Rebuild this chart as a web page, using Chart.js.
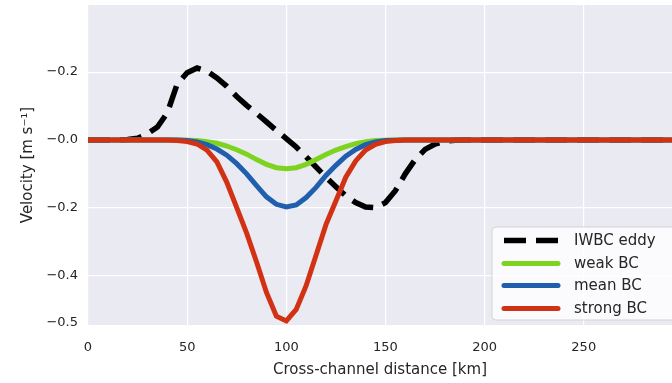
<!DOCTYPE html>
<html>
<head>
<meta charset="utf-8">
<script src="https://cdn.jsdelivr.net/npm/chart.js@4"></script>
<style>
  html, body { margin: 0; padding: 0; background: #fff; }
  #wrap { width: 672px; height: 383px; }
</style>
</head>
<body>
<div id="wrap"><canvas id="velChart" width="672" height="383"></canvas></div>
<script>
// cross-channel distance [km]
const distance = [0, 5, 10, 15, 20, 25, 30, 35, 40, 45, 50, 55, 60, 65, 70, 75, 80, 85, 90, 95,
    100, 105, 110, 115, 120, 125, 130, 135, 140, 145, 150, 155, 160, 165, 170, 175, 180, 185, 190, 195,
    200, 205, 210, 215, 220, 225, 230, 235, 240, 245, 250, 255, 260, 265, 270, 275, 280, 285, 290, 295];

// velocity profiles (as plotted)
const iwbcEddy = [0, 0, 0, 0, 0.001, 0.005, 0.018, 0.038, 0.08, 0.165, 0.198, 0.212, 0.203, 0.183, 0.158, 0.128, 0.102, 0.078, 0.053, 0.028,
    0.004, -0.021, -0.05, -0.08, -0.11, -0.138, -0.165, -0.185, -0.198, -0.2, -0.185, -0.15, -0.1, -0.058, -0.028, -0.012, -0.004, -0.001, 0, 0,
    0, 0, 0, 0, 0, 0, 0, 0, 0, 0, 0, 0, 0, 0, 0, 0, 0, 0, 0, 0];
const weakBC = [0, 0, 0, 0, 0, 0, 0, 0, 0, 0, -0.001, -0.002, -0.005, -0.01, -0.018, -0.029, -0.042, -0.058, -0.072, -0.082,
    -0.085, -0.082, -0.072, -0.058, -0.043, -0.03, -0.02, -0.011, -0.005, -0.002, -0.001, 0, 0, 0, 0, 0, 0, 0, 0, 0,
    0, 0, 0, 0, 0, 0, 0, 0, 0, 0, 0, 0, 0, 0, 0, 0, 0, 0, 0, 0];
const meanBC = [0, 0, 0, 0, 0, 0, 0, 0, 0, 0, -0.002, -0.006, -0.014, -0.027, -0.045, -0.07, -0.1, -0.135, -0.168, -0.19,
    -0.198, -0.192, -0.17, -0.14, -0.105, -0.075, -0.048, -0.028, -0.014, -0.006, -0.002, -0.001, 0, 0, 0, 0, 0, 0, 0, 0,
    0, 0, 0, 0, 0, 0, 0, 0, 0, 0, 0, 0, 0, 0, 0, 0, 0, 0, 0, 0];
const strongBC = [0, 0, 0, 0, 0, 0, 0, 0, 0, -0.002, -0.005, -0.012, -0.03, -0.065, -0.125, -0.2, -0.275, -0.36, -0.45, -0.52,
    -0.534, -0.5, -0.43, -0.34, -0.25, -0.18, -0.11, -0.062, -0.03, -0.013, -0.005, -0.002, 0, 0, 0, 0, 0, 0, 0, 0,
    0, 0, 0, 0, 0, 0, 0, 0, 0, 0, 0, 0, 0, 0, 0, 0, 0, 0, 0, 0];

const seriesLabels = ['IWBC eddy', 'weak BC', 'mean BC', 'strong BC'];

// axis ticks
const xTickValues = [0, 50, 100, 150, 200, 250];
const yTickValues = [0.2, 0, -0.2, -0.4, -0.54];
const yTickLabels = ['\u22120.2', '\u22120.0', '\u22120.2', '\u22120.4', '\u22120.5'];

const FONT = "'DejaVu Sans', sans-serif";

const toXY = arr => arr.map((v, i) => ({ x: distance[i], y: v }));

// seaborn-ish plot background
const plotBg = {
    id: 'plotBg',
    beforeDraw(chart) {
        const { ctx, chartArea: a } = chart;
        ctx.save();
        ctx.fillStyle = '#EAEAF2';
        ctx.fillRect(a.left, a.top, a.right - a.left, a.bottom - a.top);
        ctx.restore();
    }
};

// legend box in lower right corner of the axes
const boxLegend = {
    id: 'boxLegend',
    afterDraw(chart) {
        const { ctx, chartArea: a } = chart;
        const x0 = a.right - 180, y0 = a.bottom - 98;
        ctx.save();
        ctx.beginPath();
        ctx.roundRect(x0, y0, 200, 93, 4);
        ctx.fillStyle = 'rgba(255,255,255,0.8)';
        ctx.fill();
        ctx.strokeStyle = 'rgba(204,204,204,0.8)';
        ctx.lineWidth = 1;
        ctx.stroke();

        const rows = [y0 + 13.5, y0 + 36.5, y0 + 58.5, y0 + 81.5];
        const ds = chart.data.datasets;
        ds.forEach((d, i) => {
            const y = rows[i];
            ctx.beginPath();
            ctx.strokeStyle = d.borderColor;
            ctx.lineWidth = d.borderWidth;
            ctx.setLineDash(d.borderDash || []);
            ctx.lineCap = d.borderDash ? 'butt' : 'round';
            ctx.moveTo(x0 + 12, y);
            ctx.lineTo(x0 + 66, y);
            ctx.stroke();
            ctx.setLineDash([]);
            ctx.fillStyle = '#262626';
            ctx.font = '15px ' + FONT;
            ctx.textBaseline = 'middle';
            ctx.fillText(d.label, x0 + 82, y + 1);
        });
        ctx.restore();
    }
};

new Chart(document.getElementById('velChart'), {
    type: 'line',
    data: {
        datasets: [
            {
                label: seriesLabels[0],
                data: toXY(iwbcEddy),
                borderColor: '#000000',
                borderWidth: 5.5,
                borderDash: [22, 10],
                pointRadius: 0,
                tension: 0,
                order: 4
            },
            {
                label: seriesLabels[1],
                data: toXY(weakBC),
                borderColor: '#7ED321',
                borderWidth: 5,
                pointRadius: 0,
                tension: 0,
                order: 3
            },
            {
                label: seriesLabels[2],
                data: toXY(meanBC),
                borderColor: '#1F5FAD',
                borderWidth: 5,
                pointRadius: 0,
                tension: 0,
                order: 2
            },
            {
                label: seriesLabels[3],
                data: toXY(strongBC),
                borderColor: '#D23214',
                borderWidth: 5,
                pointRadius: 0,
                tension: 0,
                order: 1
            }
        ]
    },
    options: {
        responsive: false,
        animation: false,
        layout: { padding: { left: 0, right: 0, top: 5, bottom: 0 } },
        scales: {
            x: {
                type: 'linear',
                min: 0,
                max: 294.5,
                afterBuildTicks: s => { s.ticks = xTickValues.map(v => ({ value: v })); },
                afterFit: s => { s.height = 58; s.paddingLeft = 0; s.paddingRight = 0; },
                ticks: {
                    padding: 15,
                    color: '#262626',
                    font: { family: FONT, size: 13 },
                    maxRotation: 0
                },
                grid: { color: '#ffffff', lineWidth: 1.2, drawTicks: false },
                border: { display: false },
                title: {
                    display: true,
                    text: 'Cross-channel distance [km]',
                    color: '#262626',
                    font: { family: FONT, size: 15 },
                    padding: { top: 0, bottom: 4 }
                }
            },
            y: {
                type: 'linear',
                min: -0.546,
                max: 0.398,
                afterBuildTicks: s => { s.ticks = yTickValues.map(v => ({ value: v })); },
                afterFit: s => { s.width = 88; s.paddingTop = 0; s.paddingBottom = 0; },
                ticks: {
                    padding: 10,
                    color: '#262626',
                    font: { family: FONT, size: 13 },
                    callback: (v, i) => yTickLabels[i]
                },
                grid: {
                    color: c => (c.tick && c.tick.value === -0.54) ? 'rgba(0,0,0,0)' : '#ffffff',
                    lineWidth: 1.2,
                    drawTicks: false
                },
                border: { display: false },
                title: {
                    display: true,
                    text: 'Velocity [m s\u207B\u00B9]',
                    color: '#262626',
                    font: { family: FONT, size: 15 },
                    padding: { top: 19, bottom: 0 }
                }
            }
        },
        plugins: {
            legend: { display: false },
            tooltip: { enabled: false }
        }
    },
    plugins: [plotBg, boxLegend]
});
</script>
</body>
</html>
